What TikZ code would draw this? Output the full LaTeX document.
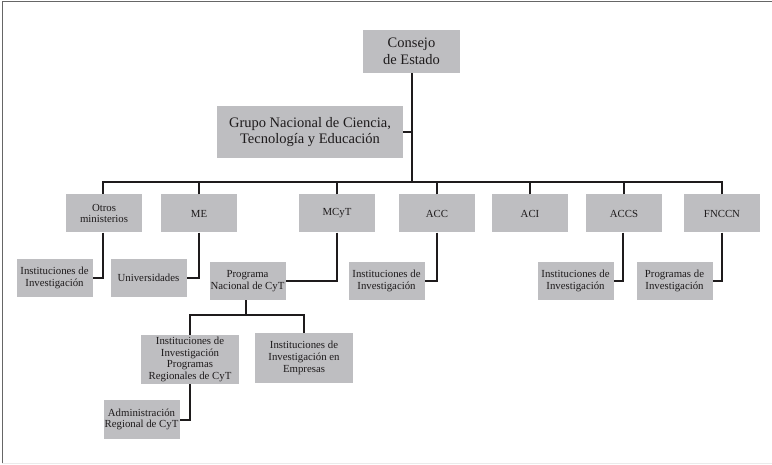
\documentclass[tikz,border=0pt]{standalone}
\usepackage{fontspec}
\setmainfont{Liberation Serif}
\definecolor{boxgray}{RGB}{190,190,193}
\definecolor{ink}{RGB}{30,27,28}
\begin{document}
\begin{tikzpicture}[x=1pt, y=-1pt,
    box/.style={rectangle, fill=boxgray, inner sep=0pt, align=center,
                text=ink, minimum width=76pt, minimum height=38pt,
                font=\fontsize{10.8}{11.8}\selectfont},
    bigbox/.style={box, font=\fontsize{14.5}{16.5}\selectfont},
    link/.style={draw=ink, line width=2pt}
]
\useasboundingbox (0,0) rectangle (772,465);
% frame
\draw[black!60, line width=1pt] (2,463) -- (2,2) -- (772,2);
\draw[black!8, line width=1pt] (2,463) -- (772,463);

\node[bigbox, minimum width=97pt, minimum height=43pt] (consejo) at (411.5,51.5) {Consejo\\de Estado};
\node[bigbox, minimum width=186pt, minimum height=52pt,
      font=\fontsize{14.5}{15.5}\selectfont] (grupo) at (310,132) {Grupo Nacional de Ciencia,\\Tecnolog\'ia y Educaci\'on};

\node[box] (otros) at (104,213.5) {Otros\\ministerios};
\node[box] (me) at (199,213.5) {ME};
\node[box] (mcyt) at (337,213.5) {MCyT};
\node[box] (acc) at (437,213.5) {ACC};
\node[box] (aci) at (530,213.5) {ACI};
\node[box] (accs) at (624,213.5) {ACCS};
\node[box] (fnccn) at (722,213.5) {FNCCN};

\node[box] (invotros) at (54.5,278) {Instituciones de\\Investigaci\'on};
\node[box] (univ) at (148.5,278) {Universidades};
\node[box] (prog) at (247.5,281) {Programa\\Nacional de CyT};
\node[box] (invacc) at (386.5,281) {Instituciones de\\Investigaci\'on};
\node[box] (invaccs) at (575.5,281) {Instituciones de\\Investigaci\'on};
\node[box] (proginv) at (674.5,281) {Programas de\\Investigaci\'on};

\node[box, minimum width=98pt, minimum height=49pt] (regionales) at (190,359.5) {Instituciones de\\Investigaci\'on\\Programas\\Regionales de CyT};
\node[box, minimum width=98pt, minimum height=50pt] (empresas) at (304,358) {Instituciones de\\Investigaci\'on en\\Empresas};
\node[box] (admin) at (141.5,419.5) {Administraci\'on\\Regional de CyT};

% connectors
\coordinate (busL) at (103,182);
\coordinate (busR) at (722,182);
\coordinate (split) at (246,315);
\draw[link] (consejo.south) -- (consejo.south |- busL);
\draw[link] (grupo.east) -- (grupo.east -| consejo.south);
\draw[link, line cap=rect] (busL) -- (busR);
\foreach \n in {me,mcyt,acc,aci,accs,fnccn}
  \draw[link] (\n.north) -- (\n.north |- busL);
\draw[link] (busL) -- (busL |- otros.north);

\draw[link] (busL |- otros.south) |- (invotros.east);
\draw[link] (me.south) |- (univ.east);
\draw[link] (mcyt.south) |- (prog.east);
\draw[link] (acc.south) |- (invacc.east);
\draw[link] ([xshift=-1pt]accs.south) |- (invaccs.east);
\draw[link] (fnccn.south) |- (proginv.east);

\draw[link] (prog.south -| split) -- (split);
\draw[link] (regionales.north) |- (split) -| (empresas.north);
\draw[link] (regionales.south) |- (admin.east);
\end{tikzpicture}
\end{document}
